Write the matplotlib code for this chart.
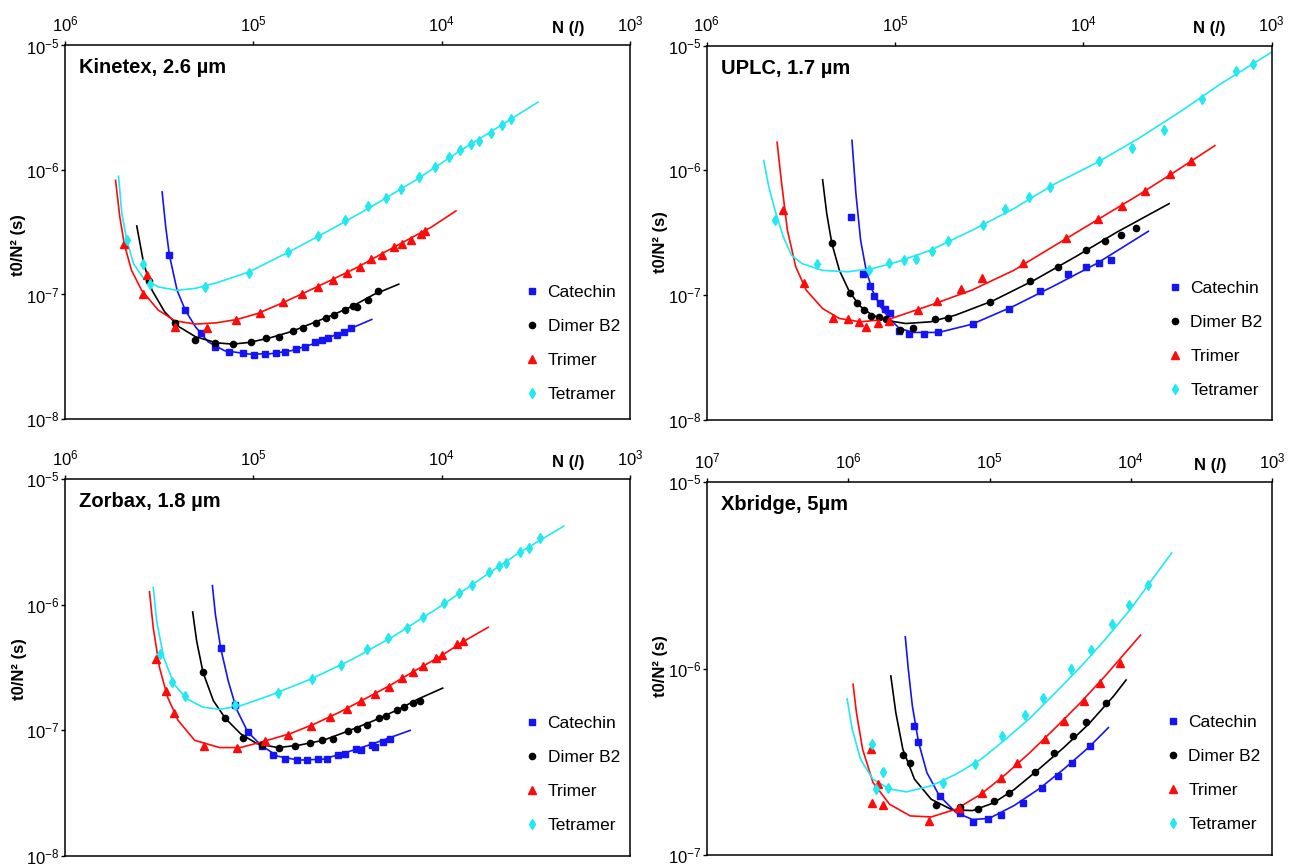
import matplotlib
matplotlib.use('Agg')
import matplotlib.pyplot as plt
from matplotlib.ticker import LogLocator, LogFormatterMathtext, NullLocator

plt.rcParams['font.family'] = 'Liberation Sans'
plt.rcParams['mathtext.default'] = 'regular'

# ---------------- Kinetex, 2.6 um ----------------
k_cat_N = [2.79e5, 2.30e5, 1.89e5, 1.60e5, 1.35e5, 1.14e5, 9.92e4, 8.65e4, 7.62e4, 6.81e4,
           5.97e4, 5.34e4, 4.71e4, 4.34e4, 4.00e4, 3.61e4, 3.32e4, 3.03e4]
k_cat_t = [2.06e-7, 7.49e-8, 4.87e-8, 3.80e-8, 3.47e-8, 3.36e-8, 3.26e-8, 3.30e-8, 3.36e-8, 3.42e-8,
           3.62e-8, 3.80e-8, 4.17e-8, 4.30e-8, 4.44e-8, 4.72e-8, 5.02e-8, 5.34e-8]
k_cat_fitN = [3.05e5, 2.92e5, 2.79e5, 2.54e5, 2.30e5, 2.03e5, 1.74e5, 1.42e5, 1.05e5, 8.14e4,
              6.32e4, 4.90e4, 3.80e4, 2.95e4, 2.35e4]
k_cat_fitt = [6.66e-7, 3.49e-7, 2.06e-7, 1.08e-7, 7.49e-8, 5.50e-8, 4.17e-8, 3.53e-8, 3.32e-8, 3.34e-8,
              3.53e-8, 3.97e-8, 4.63e-8, 5.44e-8, 6.30e-8]

k_dim_N = [3.57e5, 2.61e5, 2.04e5, 1.59e5, 1.28e5, 1.03e5, 8.56e4, 7.35e4, 6.16e4, 5.42e4,
           4.66e4, 4.10e4, 3.71e4, 3.28e4, 2.95e4, 2.81e4, 2.47e4, 2.18e4]
k_dim_t = [1.28e-7, 5.92e-8, 4.30e-8, 4.05e-8, 3.97e-8, 4.17e-8, 4.44e-8, 4.58e-8, 5.11e-8, 5.34e-8,
           5.92e-8, 6.50e-8, 6.83e-8, 7.49e-8, 8.11e-8, 7.86e-8, 9.01e-8, 1.06e-7]
k_dim_fitN = [4.16e5, 3.82e5, 3.45e5, 2.96e5, 2.48e5, 2.03e5, 1.57e5, 1.29e5, 1.05e5, 8.14e4,
              6.32e4, 4.90e4, 3.80e4, 2.95e4, 2.29e4, 1.69e4]
k_dim_fitt = [3.55e-7, 1.77e-7, 1.08e-7, 7.26e-8, 5.50e-8, 4.58e-8, 4.09e-8, 3.99e-8, 4.12e-8, 4.49e-8,
              5.02e-8, 5.85e-8, 6.83e-8, 8.11e-8, 1.00e-7, 1.21e-7]

k_tri_N = [4.84e5, 3.86e5, 3.68e5, 2.61e5, 1.77e5, 1.23e5, 9.19e4, 6.92e4, 5.54e4, 4.54e4,
           3.77e4, 3.19e4, 2.72e4, 2.36e4, 2.07e4, 1.80e4, 1.62e4, 1.45e4, 1.29e4, 1.22e4]
k_tri_t = [2.52e-7, 1.00e-7, 1.43e-7, 5.50e-8, 5.34e-8, 6.22e-8, 7.12e-8, 8.63e-8, 1.00e-7, 1.14e-7,
           1.30e-7, 1.49e-7, 1.67e-7, 1.91e-7, 2.09e-7, 2.41e-7, 2.56e-7, 2.76e-7, 3.08e-7, 3.22e-7]
k_tri_fitN = [5.39e5, 5.12e5, 4.84e5, 4.44e5, 3.92e5, 3.20e5, 2.61e5, 2.03e5, 1.57e5, 1.22e5,
              9.47e4, 6.99e4, 5.16e4, 3.80e4, 2.81e4, 2.07e4, 1.53e4, 1.13e4, 8.40e3]
k_tri_fitt = [8.26e-7, 4.20e-7, 2.52e-7, 1.57e-7, 1.08e-7, 7.49e-8, 6.15e-8, 5.78e-8, 5.92e-8, 6.30e-8,
              7.04e-8, 8.57e-8, 1.06e-7, 1.32e-7, 1.65e-7, 2.13e-7, 2.73e-7, 3.49e-7, 4.69e-7]

k_tet_N = [4.70e5, 3.86e5, 3.54e5, 1.80e5, 1.06e5, 6.58e4, 4.56e4, 3.28e4, 2.45e4, 1.97e4,
           1.64e4, 1.32e4, 1.09e4, 9.16e3, 7.95e3, 7.00e3, 6.32e3, 5.49e3, 4.76e3, 4.30e3]
k_tet_t = [2.73e-7, 1.77e-7, 1.21e-7, 1.15e-7, 1.49e-7, 2.20e-7, 2.94e-7, 3.95e-7, 5.11e-7, 5.96e-7,
           7.08e-7, 8.79e-7, 1.06e-6, 1.27e-6, 1.46e-6, 1.61e-6, 1.71e-6, 1.98e-6, 2.31e-6, 2.58e-6]
k_tet_fitN = [5.20e5, 4.99e5, 4.70e5, 4.33e5, 3.82e5, 3.20e5, 2.54e5, 2.03e5, 1.57e5, 1.05e5,
              6.32e4, 3.80e4, 2.29e4, 1.38e4, 8.32e3, 5.01e3, 3.08e3]
k_tet_fitt = [8.90e-7, 4.46e-7, 2.73e-7, 1.77e-7, 1.34e-7, 1.15e-7, 1.08e-7, 1.12e-7, 1.24e-7, 1.52e-7,
              2.24e-7, 3.38e-7, 5.21e-7, 8.26e-7, 1.37e-6, 2.21e-6, 3.51e-6]

# ---------------- UPLC, 1.7 um ----------------
u_cat_N = [1.72e5, 1.47e5, 1.36e5, 1.29e5, 1.20e5, 1.13e5, 1.06e5, 9.51e4, 8.37e4, 7.01e4,
           5.93e4, 3.84e4, 2.48e4, 1.69e4, 1.21e4, 9.65e3, 8.21e3, 7.08e3]
u_cat_t = [4.23e-7, 1.47e-7, 1.19e-7, 9.88e-8, 8.58e-8, 7.68e-8, 7.26e-8, 5.15e-8, 4.90e-8, 4.90e-8,
           5.03e-8, 5.86e-8, 7.82e-8, 1.08e-7, 1.47e-7, 1.69e-7, 1.82e-7, 1.91e-7]
u_cat_fitN = [1.69e5, 1.61e5, 1.52e5, 1.42e5, 1.32e5, 1.19e5, 1.07e5, 9.46e4, 7.92e4, 5.84e4,
              3.89e4, 2.34e4, 1.41e4, 8.50e3, 4.51e3]
u_cat_fitt = [1.74e-6, 6.51e-7, 2.75e-7, 1.58e-7, 1.10e-7, 8.07e-8, 6.51e-8, 5.41e-8, 5.03e-8, 5.03e-8,
              5.86e-8, 8.17e-8, 1.20e-7, 1.79e-7, 3.25e-7]

u_dim_N = [2.17e5, 1.74e5, 1.59e5, 1.45e5, 1.34e5, 1.22e5, 1.12e5, 9.41e4, 8.04e4, 6.14e4,
           5.25e4, 3.11e4, 1.92e4, 1.36e4, 9.65e3, 7.64e3, 6.30e3, 5.23e3]
u_dim_t = [2.62e-7, 1.04e-7, 8.58e-8, 7.59e-8, 6.79e-8, 6.63e-8, 6.39e-8, 5.31e-8, 5.48e-8, 6.39e-8,
           6.51e-8, 8.85e-8, 1.29e-7, 1.69e-7, 2.32e-7, 2.72e-7, 3.06e-7, 3.46e-7]
u_dim_fitN = [2.42e5, 2.30e5, 2.16e5, 1.97e5, 1.74e5, 1.53e5, 1.32e5, 1.07e5, 8.76e4, 6.47e4,
              4.77e4, 3.02e4, 1.82e4, 1.10e4, 6.60e3, 3.50e3]
u_dim_fitt = [8.42e-7, 4.50e-7, 2.59e-7, 1.58e-7, 1.06e-7, 8.17e-8, 6.92e-8, 6.23e-8, 5.93e-8, 6.12e-8,
              6.92e-8, 9.01e-8, 1.32e-7, 2.03e-7, 3.21e-7, 5.41e-7]

u_tri_N = [3.91e5, 3.04e5, 2.13e5, 1.78e5, 1.55e5, 1.42e5, 1.23e5, 1.08e5, 7.53e4, 5.96e4,
           4.44e4, 3.43e4, 2.09e4, 1.24e4, 8.33e3, 6.24e3, 4.67e3, 3.48e3, 2.69e3]
u_tri_t = [4.79e-7, 1.26e-7, 6.51e-8, 6.39e-8, 6.12e-8, 5.58e-8, 6.01e-8, 6.23e-8, 7.59e-8, 9.01e-8,
           1.12e-7, 1.38e-7, 1.82e-7, 2.89e-7, 4.06e-7, 5.18e-7, 6.79e-7, 9.29e-7, 1.19e-6]
u_tri_fitN = [4.22e5, 4.01e5, 3.72e5, 3.36e5, 2.96e5, 2.42e5, 1.97e5, 1.53e5, 1.07e5, 6.47e4,
              3.89e4, 2.34e4, 1.41e4, 8.50e3, 5.12e3, 3.08e3, 2.00e3]
u_tri_fitt = [1.68e-6, 8.32e-7, 3.31e-7, 1.69e-7, 1.10e-7, 7.82e-8, 6.51e-8, 6.12e-8, 6.43e-8, 8.32e-8,
              1.10e-7, 1.58e-7, 2.51e-7, 3.98e-7, 6.31e-7, 1.03e-6, 1.58e-6]

u_tet_N = [4.33e5, 2.58e5, 1.38e5, 1.08e5, 8.94e4, 7.68e4, 6.37e4, 5.25e4, 3.41e4, 2.60e4,
           1.93e4, 1.51e4, 8.29e3, 5.50e3, 3.74e3, 2.34e3, 1.54e3, 1.26e3]
u_tet_t = [3.98e-7, 1.79e-7, 1.60e-7, 1.81e-7, 1.91e-7, 1.96e-7, 2.25e-7, 2.72e-7, 3.67e-7, 4.93e-7,
           6.12e-7, 7.36e-7, 1.18e-6, 1.51e-6, 2.09e-6, 3.75e-6, 6.31e-6, 7.13e-6]
u_tet_fitN = [4.97e5, 4.67e5, 4.33e5, 3.91e5, 3.54e5, 3.11e5, 2.42e5, 1.78e5, 1.32e5, 9.70e4,
              6.47e4, 3.89e4, 2.34e4, 1.41e4, 8.50e3, 5.12e3, 3.08e3, 1.86e3, 1.00e3]
u_tet_fitt = [1.20e-6, 7.36e-7, 4.79e-7, 2.93e-7, 2.09e-7, 1.79e-7, 1.58e-7, 1.54e-7, 1.63e-7, 1.85e-7,
              2.29e-7, 3.31e-7, 4.93e-7, 7.82e-7, 1.15e-6, 1.79e-6, 2.93e-6, 4.94e-6, 8.84e-6]

# ---------------- Zorbax, 1.8 um ----------------
z_cat_N = [1.49e5, 1.25e5, 1.07e5, 9.05e4, 7.85e4, 6.78e4, 5.88e4, 5.16e4, 4.52e4, 4.04e4,
           3.54e4, 3.27e4, 2.84e4, 2.69e4, 2.35e4, 2.26e4, 2.05e4, 1.89e4]
z_cat_t = [4.49e-7, 1.60e-7, 9.70e-8, 7.47e-8, 6.35e-8, 5.97e-8, 5.80e-8, 5.76e-8, 5.97e-8, 5.97e-8,
           6.35e-8, 6.54e-8, 7.17e-8, 6.95e-8, 7.61e-8, 7.39e-8, 8.04e-8, 8.59e-8]
z_cat_fitN = [1.65e5, 1.59e5, 1.49e5, 1.36e5, 1.23e5, 1.07e5, 9.10e4, 7.43e4, 5.76e4, 4.25e4,
              3.14e4, 2.31e4, 1.47e4]
z_cat_fitt = [1.42e-6, 8.34e-7, 4.49e-7, 2.48e-7, 1.48e-7, 9.70e-8, 7.61e-8, 6.23e-8, 5.80e-8, 5.90e-8,
              6.75e-8, 7.84e-8, 1.00e-7]

z_dim_N = [1.85e5, 1.41e5, 1.13e5, 9.00e4, 7.35e4, 6.00e4, 5.00e4, 4.30e4, 3.78e4, 3.14e4,
           2.81e4, 2.48e4, 2.15e4, 1.97e4, 1.73e4, 1.58e4, 1.42e4, 1.31e4]
z_dim_t = [2.89e-7, 1.25e-7, 8.75e-8, 7.61e-8, 7.30e-8, 7.52e-8, 7.94e-8, 8.34e-8, 8.49e-8, 9.88e-8,
           1.03e-7, 1.10e-7, 1.26e-7, 1.29e-7, 1.46e-7, 1.53e-7, 1.65e-7, 1.72e-7]
z_dim_fitN = [2.10e5, 2.00e5, 1.85e5, 1.63e5, 1.41e5, 1.17e5, 9.57e4, 7.43e4, 5.76e4, 4.25e4,
              3.14e4, 2.31e4, 1.71e4, 1.33e4, 9.88e3]
z_dim_fitt = [8.76e-7, 5.14e-7, 2.89e-7, 1.72e-7, 1.25e-7, 9.41e-8, 7.84e-8, 7.30e-8, 7.61e-8, 8.34e-8,
              9.88e-8, 1.19e-7, 1.46e-7, 1.78e-7, 2.17e-7]

z_tri_N = [3.30e5, 2.90e5, 2.65e5, 1.82e5, 1.22e5, 8.65e4, 6.54e4, 4.95e4, 3.94e4, 3.19e4,
           2.67e4, 2.26e4, 1.91e4, 1.62e4, 1.42e4, 1.25e4, 1.07e4, 9.98e3, 8.27e3, 7.71e3]
z_tri_t = [3.68e-7, 2.07e-7, 1.38e-7, 7.47e-8, 7.30e-8, 8.19e-8, 9.13e-8, 1.08e-7, 1.27e-7, 1.48e-7,
           1.70e-7, 1.95e-7, 2.20e-7, 2.59e-7, 2.92e-7, 3.26e-7, 3.79e-7, 3.96e-7, 4.89e-7, 5.14e-7]
z_tri_fitN = [3.56e5, 3.40e5, 3.15e5, 2.85e5, 2.51e5, 2.05e5, 1.51e5, 1.17e5, 8.65e4, 6.38e4,
              4.71e4, 3.47e4, 2.56e4, 1.89e4, 1.39e4, 1.03e4, 7.59e3, 5.66e3]
z_tri_fitt = [1.27e-6, 6.54e-7, 3.16e-7, 1.83e-7, 1.20e-7, 8.34e-8, 7.30e-8, 7.30e-8, 8.24e-8, 9.41e-8,
              1.13e-7, 1.40e-7, 1.78e-7, 2.27e-7, 2.98e-7, 3.84e-7, 5.14e-7, 6.62e-7]

z_tet_N = [3.13e5, 2.70e5, 2.30e5, 1.25e5, 7.43e4, 4.90e4, 3.44e4, 2.50e4, 1.92e4, 1.52e4,
           1.25e4, 9.78e3, 8.11e3, 6.89e3, 5.63e3, 4.96e3, 4.57e3, 3.83e3, 3.46e3, 3.02e3]
z_tet_t = [4.03e-7, 2.41e-7, 1.89e-7, 1.60e-7, 1.98e-7, 2.56e-7, 3.32e-7, 4.41e-7, 5.46e-7, 6.54e-7,
           7.99e-7, 1.03e-6, 1.25e-6, 1.44e-6, 1.81e-6, 2.04e-6, 2.13e-6, 2.64e-6, 2.85e-6, 3.40e-6]
z_tet_fitN = [3.40e5, 3.26e5, 2.99e5, 2.64e5, 2.26e5, 1.85e5, 1.51e5, 1.17e5, 8.22e4, 4.95e4,
              2.98e4, 1.80e4, 1.08e4, 6.52e3, 3.93e3, 2.25e3]
z_tet_fitt = [1.37e-6, 7.39e-7, 3.79e-7, 2.34e-7, 1.78e-7, 1.53e-7, 1.47e-7, 1.57e-7, 1.89e-7, 2.56e-7,
              3.68e-7, 5.62e-7, 9.13e-7, 1.53e-6, 2.56e-6, 4.22e-6]

# ---------------- Xbridge, 5 um ----------------
x_cat_N = [3.42e5, 3.20e5, 2.24e5, 1.63e5, 1.30e5, 1.03e5, 8.28e4, 5.78e4, 4.27e4, 3.30e4, 2.60e4, 1.93e4]
x_cat_t = [4.92e-7, 4.06e-7, 2.08e-7, 1.68e-7, 1.51e-7, 1.56e-7, 1.64e-7, 1.91e-7, 2.28e-7, 2.66e-7,
           3.13e-7, 3.85e-7]
x_cat_fitN = [3.95e5, 3.76e5, 3.52e5, 3.18e5, 2.78e5, 2.27e5, 1.73e5, 1.32e5, 1.01e5, 6.71e4,
              4.47e4, 2.98e4, 1.99e4, 1.44e4]
x_cat_fitt = [1.48e-6, 9.90e-7, 6.30e-7, 4.01e-7, 2.77e-7, 2.08e-7, 1.69e-7, 1.55e-7, 1.57e-7, 1.84e-7,
              2.26e-7, 2.89e-7, 3.77e-7, 4.82e-7]

x_dim_N = [4.11e5, 3.66e5, 2.38e5, 1.62e5, 1.21e5, 9.28e4, 7.33e4, 4.79e4, 3.48e4, 2.57e4, 2.06e4, 1.49e4]
x_dim_t = [3.44e-7, 3.11e-7, 1.86e-7, 1.80e-7, 1.76e-7, 1.94e-7, 2.15e-7, 2.80e-7, 3.54e-7, 4.35e-7,
           5.17e-7, 6.51e-7]
x_dim_fitN = [5.00e5, 4.61e5, 4.11e5, 3.40e5, 2.59e5, 1.85e5, 1.32e5, 9.41e4, 6.71e4, 4.47e4,
              2.98e4, 1.99e4, 1.32e4, 1.08e4]
x_dim_fitt = [9.12e-7, 5.80e-7, 3.69e-7, 2.55e-7, 1.99e-7, 1.75e-7, 1.73e-7, 1.90e-7, 2.24e-7, 2.89e-7,
              3.77e-7, 5.03e-7, 7.13e-7, 8.68e-7]

x_tri_N = [6.87e5, 6.83e5, 6.17e5, 5.72e5, 2.69e5, 1.65e5, 1.14e5, 8.28e4, 6.36e4, 4.04e4,
           2.96e4, 2.15e4, 1.66e4, 1.20e4]
x_tri_t = [3.72e-7, 1.91e-7, 2.40e-7, 1.86e-7, 1.53e-7, 1.78e-7, 2.15e-7, 2.58e-7, 3.13e-7, 4.18e-7,
           5.24e-7, 6.70e-7, 8.40e-7, 1.07e-6]
x_tri_fitN = [9.25e5, 8.76e5, 7.92e5, 6.69e5, 5.10e5, 3.64e5, 2.59e5, 1.73e5, 1.15e5, 7.68e4,
              5.12e4, 3.41e4, 2.27e4, 1.52e4, 8.53e3]
x_tri_fitt = [8.23e-7, 5.80e-7, 3.69e-7, 2.45e-7, 1.87e-7, 1.62e-7, 1.60e-7, 1.76e-7, 2.12e-7, 2.71e-7,
              3.57e-7, 4.82e-7, 6.56e-7, 9.12e-7, 1.51e-6]

x_tet_N = [6.83e5, 6.38e5, 5.72e5, 5.21e5, 2.15e5, 1.27e5, 8.11e4, 5.59e4, 4.21e4, 2.66e4,
           1.91e4, 1.35e4, 1.03e4, 7.60e3]
x_tet_t = [3.93e-7, 2.27e-7, 2.77e-7, 2.30e-7, 2.42e-7, 3.07e-7, 4.32e-7, 5.64e-7, 6.98e-7, 9.98e-7,
           1.25e-6, 1.74e-6, 2.19e-6, 2.80e-6]
x_tet_fitN = [1.02e6, 9.38e5, 8.19e5, 6.69e5, 5.10e5, 3.89e5, 2.59e5, 1.73e5, 1.15e5, 7.68e4,
              5.12e4, 3.41e4, 2.27e4, 1.52e4, 1.01e4, 7.20e3, 5.14e3]
x_tet_fitt = [6.89e-7, 4.72e-7, 3.26e-7, 2.55e-7, 2.26e-7, 2.18e-7, 2.35e-7, 2.71e-7, 3.26e-7, 4.18e-7,
              5.46e-7, 7.43e-7, 1.02e-6, 1.43e-6, 2.07e-6, 2.94e-6, 4.17e-6]

compounds = ['Catechin', 'Dimer B2', 'Trimer', 'Tetramer']
colors = ['#1414f5', 'black', '#ff0a0a', '#22e8f2']
markers = ['s', 'o', '^', 'd']
msizes = [4.5, 4.5, 5.5, 5.5]

panels = [
    # title, axes rect, xlim, ylim, data, legend anchor, ylabel pos
    ('Kinetex, 2.6 \u00b5m', [0.0504, 0.5162, 0.438, 0.4313], (1e6, 1e3), (1e-8, 1e-5),
     [(k_cat_N, k_cat_t, k_cat_fitN, k_cat_fitt), (k_dim_N, k_dim_t, k_dim_fitN, k_dim_fitt),
      (k_tri_N, k_tri_t, k_tri_fitN, k_tri_fitt), (k_tet_N, k_tet_t, k_tet_fitN, k_tet_fitt)],
     (0.814, 0.203), (-0.069, 0.466)),
    ('UPLC, 1.7 \u00b5m', [0.5477, 0.515, 0.438, 0.4324], (1e6, 1e3), (1e-8, 1e-5),
     [(u_cat_N, u_cat_t, u_cat_fitN, u_cat_fitt), (u_dim_N, u_dim_t, u_dim_fitN, u_dim_fitt),
      (u_tri_N, u_tri_t, u_tri_fitN, u_tri_fitt), (u_tet_N, u_tet_t, u_tet_fitN, u_tet_fitt)],
     (0.816, 0.215), (-0.068, 0.475)),
    ('Zorbax, 1.8 \u00b5m', [0.0504, 0.0115, 0.438, 0.4353], (1e6, 1e3), (1e-8, 1e-5),
     [(z_cat_N, z_cat_t, z_cat_fitN, z_cat_fitt), (z_dim_N, z_dim_t, z_dim_fitN, z_dim_fitt),
      (z_tri_N, z_tri_t, z_tri_fitN, z_tri_fitt), (z_tet_N, z_tet_t, z_tet_fitN, z_tet_fitt)],
     (0.814, 0.216), (-0.067, 0.496)),
    ('Xbridge, 5\u00b5m', [0.5481, 0.0127, 0.438, 0.4307], (1e7, 1e3), (1e-7, 1e-5),
     [(x_cat_N, x_cat_t, x_cat_fitN, x_cat_fitt), (x_dim_N, x_dim_t, x_dim_fitN, x_dim_fitt),
      (x_tri_N, x_tri_t, x_tri_fitN, x_tri_fitt), (x_tet_N, x_tet_t, x_tet_fitN, x_tet_fitt)],
     (0.812, 0.219), (-0.069, 0.507)),
]

fig = plt.figure(figsize=(12.9, 8.66), dpi=100)

for title, rect, xlim, ylim, series, leg_anchor, ylab_pos in panels:
    ax = fig.add_axes(rect)
    ax.set_xscale('log')
    ax.set_yscale('log')
    ax.set_xlim(*xlim)
    ax.set_ylim(*ylim)

    for (N, t, fN, ft), name, c, m, ms in zip(series, compounds, colors, markers, msizes):
        ax.plot(fN, ft, '-', color=c, lw=1.2, zorder=2)
        ax.plot(N, t, linestyle='none', marker=m, ms=ms, color=c, mec=c,
                label=name, zorder=3)

    # axes frame and ticks: N on top, reversed
    for sp in ax.spines.values():
        sp.set_linewidth(1.1)
    ax.xaxis.tick_top()
    ax.xaxis.set_major_locator(LogLocator(base=10, numticks=10))
    ax.xaxis.set_major_formatter(LogFormatterMathtext())
    ax.xaxis.set_minor_locator(NullLocator())
    ax.yaxis.set_major_locator(LogLocator(base=10, numticks=10))
    ax.yaxis.set_major_formatter(LogFormatterMathtext())
    ax.yaxis.set_minor_locator(NullLocator())
    ax.tick_params(axis='x', which='major', direction='out', length=3, width=1,
                   labelsize=12, pad=5)
    ax.tick_params(axis='y', which='major', direction='out', length=3, width=1,
                   labelsize=12, pad=1)

    ax.text(0.025, 0.94, title, transform=ax.transAxes, fontsize=14.5,
            fontweight='bold', ha='left', va='center')
    ax.text(0.89, 1.045, 'N (/)', transform=ax.transAxes, fontsize=12,
            fontweight='bold', ha='center', va='center')
    ax.set_ylabel('t0/N\u00b2 (s)', fontsize=12, fontweight='bold')
    ax.yaxis.set_label_coords(*ylab_pos)

    ax.legend(loc='center left', bbox_to_anchor=leg_anchor, frameon=False,
              fontsize=12.5, numpoints=1, handlelength=0.8, handletextpad=0.5,
              labelspacing=1.09, borderpad=0, borderaxespad=0)

fig.savefig('out.png', dpi=100)
